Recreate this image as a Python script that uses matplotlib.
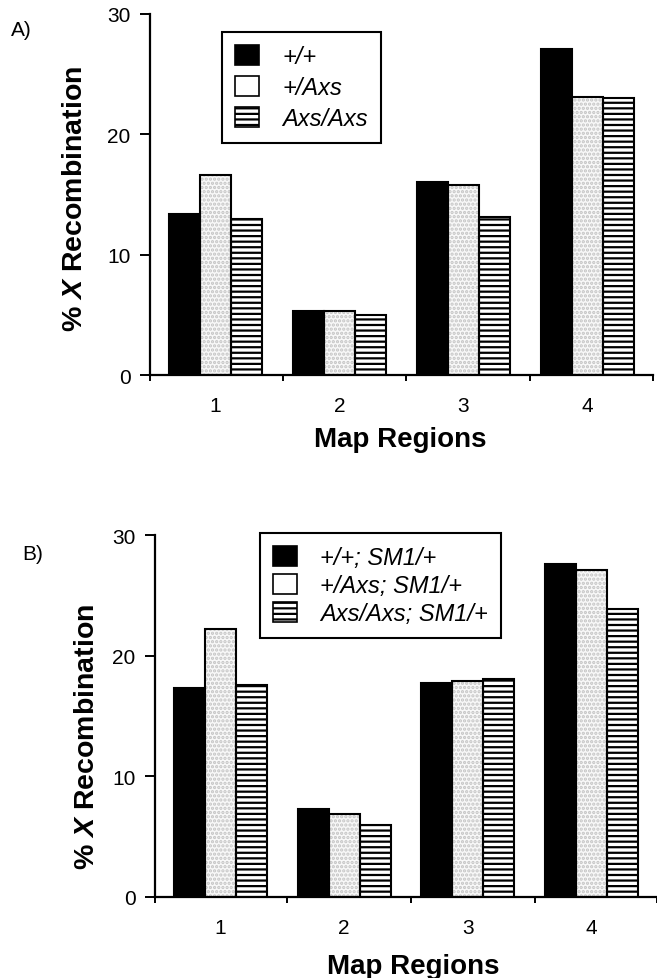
import matplotlib
matplotlib.use("Agg")
import matplotlib.pyplot as plt
import matplotlib.patches as mpatches
import numpy as np

# Map regions on the X chromosome
regions = ["1", "2", "3", "4"]

# panel A: % X recombination
a_wt = [13.4, 5.3, 16.0, 27.1]
a_het = [16.6, 5.3, 15.8, 23.1]
a_hom = [13.0, 5.0, 13.1, 23.0]
a_labels = ["+/+", "+/Axs", "Axs/Axs"]

# panel B: same genotypes, with SM1/+
b_wt = [17.3, 7.3, 17.7, 27.6]
b_het = [22.2, 6.9, 17.9, 27.1]
b_hom = [17.6, 6.0, 18.1, 23.9]
b_labels = ["+/+; SM1/+", "+/Axs; SM1/+", "Axs/Axs; SM1/+"]

plt.rcParams["font.family"] = ["Liberation Sans", "DejaVu Sans"]
plt.rcParams["mathtext.fontset"] = "custom"
plt.rcParams["mathtext.it"] = "Liberation Sans:italic:bold"
plt.rcParams["mathtext.rm"] = "Liberation Sans:bold"
plt.rcParams["hatch.linewidth"] = 1.6

STIPPLE = "#c4c4c4"
width = 0.25


def draw_panel(ax, series, labels, legend_anchor, leg_spacing, ylabel_xy, xlabel_xy,
               letter, letter_xy):
    x = np.arange(1, len(regions) + 1)
    styles = [
        dict(facecolor="black", hatch=None, hatch_color="black"),
        dict(facecolor="#f8f8f8", hatch="....", hatch_color=STIPPLE),
        dict(facecolor="white", hatch="---", hatch_color="black"),
    ]
    for i, (vals, st) in enumerate(zip(series, styles)):
        pos = x + (i - 1) * width
        # fill + texture, then a clean black outline on top
        ax.bar(pos, vals, width, color=st["facecolor"], hatch=st["hatch"],
               edgecolor=st["hatch_color"], linewidth=0, zorder=2)
        ax.bar(pos, vals, width, fill=False, edgecolor="black",
               linewidth=1.5, zorder=3)

    ax.set_xlim(0.47, 4.53)
    ax.set_ylim(0, 30)
    ax.set_yticks([0, 10, 20, 30])
    ax.set_xticks(x)
    ax.set_xticklabels(regions)
    ax.set_xticks([0.47, 1.54, 2.54, 3.54, 4.53], minor=True)
    ax.tick_params(axis="x", which="major", length=0, pad=15, labelsize=15)
    ax.tick_params(axis="x", which="minor", length=4, width=1.4, direction="out")
    ax.tick_params(axis="y", length=7, width=1.4, pad=7, labelsize=15)

    for side in ["top", "right"]:
        ax.spines[side].set_visible(False)
    for side in ["left", "bottom"]:
        ax.spines[side].set_linewidth(1.6)

    ax.set_ylabel(r"% $\mathit{X}$ Recombination", fontsize=20.5, fontweight="bold")
    ax.yaxis.set_label_coords(*ylabel_xy)
    ax.set_xlabel("Map Regions", fontsize=20, fontweight="bold")
    ax.xaxis.set_label_coords(*xlabel_xy)

    handles = [
        mpatches.Patch(facecolor="black", edgecolor="black", linewidth=1.2),
        mpatches.Patch(facecolor="white", edgecolor="black", linewidth=1.2),
        mpatches.Patch(facecolor="white", edgecolor="black", linewidth=1.2, hatch="---"),
    ]
    leg = ax.legend(handles, labels, loc="upper left",
                    bbox_to_anchor=legend_anchor, bbox_transform=fig.transFigure,
                    prop={"style": "italic", "size": 17}, frameon=True,
                    fancybox=False, edgecolor="black", framealpha=1,
                    borderpad=0.55, borderaxespad=0, handlelength=1.0,
                    handleheight=0.95, handletextpad=1.0, labelspacing=leg_spacing)
    leg.get_frame().set_linewidth(1.5)

    fig.text(letter_xy[0], letter_xy[1], letter, fontsize=15, ha="center", va="center")


fig = plt.figure(figsize=(6.57, 9.79), dpi=100)

ax_a = fig.add_axes([150 / 657, 1 - 376 / 979, 503 / 657, 361 / 979])
draw_panel(ax_a, [a_wt, a_het, a_hom], a_labels,
           legend_anchor=(222 / 657, 1 - 33 / 979), leg_spacing=0.32,
           ylabel_xy=(-0.123, 0.49), xlabel_xy=(0.497, -0.142),
           letter="A)", letter_xy=(21 / 657, 1 - 31 / 979))

ax_b = fig.add_axes([155 / 657, 1 - 898 / 979, 502 / 657, 362 / 979])
draw_panel(ax_b, [b_wt, b_het, b_hom], b_labels,
           legend_anchor=(260 / 657, 1 - 534 / 979), leg_spacing=0.2,
           ylabel_xy=(-0.11, 0.445), xlabel_xy=(0.514, -0.155),
           letter="B)", letter_xy=(33 / 657, 1 - 555 / 979))

fig.savefig("out.png", dpi=100)
